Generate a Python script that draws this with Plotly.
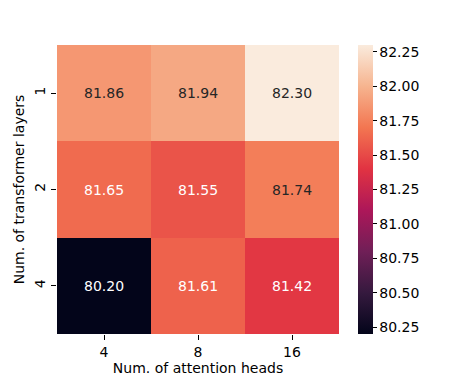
import plotly.graph_objects as go

# data
heads = ["4", "8", "16"]
layers = ["1", "2", "4"]
acc = [
    [81.86, 81.94, 82.30],
    [81.65, 81.55, 81.74],
    [80.20, 81.61, 81.42],
]

# seaborn "rocket" colormap, sampled
rocket = [
    [0.0, "#03051a"], [1 / 7, "#35193e"], [2 / 7, "#701f57"], [3 / 7, "#ad1759"],
    [4 / 7, "#e13342"], [5 / 7, "#f37651"], [6 / 7, "#f6b48f"], [1.0, "#faebdd"],
]

vmin = min(min(r) for r in acc)
vmax = max(max(r) for r in acc)

fig = go.Figure(go.Heatmap(
    z=acc, x=heads, y=layers, colorscale=rocket, zmin=vmin, zmax=vmax,
    xgap=0, ygap=0,
    colorbar=dict(
        x=1.067, xanchor="left", y=0.5, yanchor="middle", len=1, lenmode="fraction",
        thickness=15, outlinewidth=0, xpad=0, ypad=0,
        tickvals=[80.25 + 0.25 * i for i in range(9)], tickformat=".2f",
        ticks="outside", ticklen=4, tickcolor="black",
        tickfont=dict(size=14, color="black"),
    ),
))

# annotate like seaborn: dark text on light cells, white on dark
for i, row in enumerate(acc):
    for j, v in enumerate(row):
        t = (v - vmin) / (vmax - vmin)
        col = "#262626" if t > 0.7 else "white"
        fig.add_annotation(x=j, y=i, text=f"{v:.2f}", showarrow=False,
                           font=dict(size=14, color=col))

# page body has an 8px margin, so the figure is shrunk by that much
fig.update_layout(
    width=449, height=368,
    margin=dict(l=49, r=118, t=37, b=42, autoexpand=False),
    paper_bgcolor="white", plot_bgcolor="white",
    font=dict(family="DejaVu Sans", size=14, color="black"),
    xaxis=dict(type="category", automargin=False,
               title=dict(text="Num. of attention heads", standoff=4, font=dict(size=14)),
               tickfont=dict(size=14),
               ticks="outside", ticklen=5, tickcolor="black", showgrid=False,
               zeroline=False, showline=False),
    yaxis=dict(type="category", automargin=False,
               title=dict(text="Num. of transformer layers", standoff=4, font=dict(size=14)),
               tickfont=dict(size=14),
               autorange="reversed", ticks="outside", ticklen=5, tickcolor="black",
               tickangle=-90, showgrid=False, zeroline=False, showline=False),
)

fig.write_html("out.html")
